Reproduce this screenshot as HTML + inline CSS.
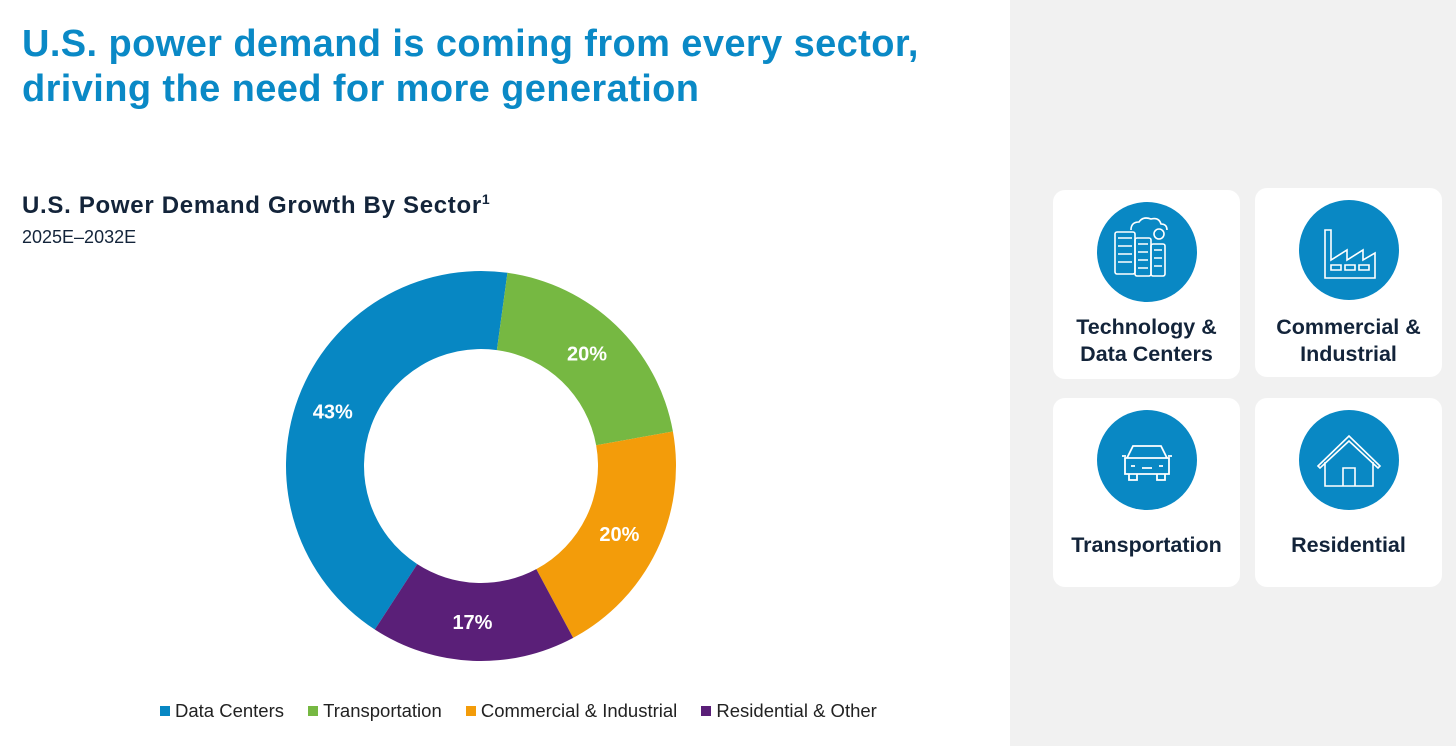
<!DOCTYPE html>
<html><head><meta charset="utf-8">
<style>
body{margin:0;width:1456px;height:746px;overflow:hidden;background:#fff;font-family:"Liberation Sans",Arial,sans-serif;position:relative}
.t{position:absolute;white-space:nowrap}
#title{left:22px;top:22px;font-size:38px;font-weight:bold;color:#0a89c6;line-height:45px;letter-spacing:0.4px}
#sub{left:22px;top:191px;font-size:24px;font-weight:bold;color:#13243a;letter-spacing:0.7px}
#sub sup{font-size:14px}
#yrs{left:22px;top:227px;font-size:18px;color:#13243a}
#panel{position:absolute;left:1010px;top:0;width:446px;height:746px;background:#f1f1f1}
.card{position:absolute;width:187px;height:189px;background:#fff;border-radius:12px}
.circ{position:absolute;left:44px;top:12px;width:100px;height:100px;border-radius:50%;background:#0988c4}
.lbl{position:absolute;left:0;width:100%;text-align:center;font-size:21.5px;font-weight:bold;color:#13243a;line-height:27px}
#legend{left:160px;top:700px;font-size:18.5px;color:#222}
.sw{display:inline-block;width:10px;height:10px;margin-right:5px;vertical-align:1px}
.li{margin-right:19px}
</style></head><body>
<div id="title" class="t">U.S. power demand is coming from every sector,<br>driving the need for more generation</div>
<div id="sub" class="t">U.S. Power Demand Growth By Sector<sup>1</sup></div>
<div id="yrs" class="t">2025E–2032E</div>
<svg id="chart" width="1010" height="746" style="position:absolute;left:0;top:0"></svg>
<div id="legend" class="t">
<span class="li"><span class="sw" style="background:#0787c3"></span>Data Centers</span>
<span class="li"><span class="sw" style="background:#76b842"></span>Transportation</span>
<span class="li"><span class="sw" style="background:#f39c0a"></span>Commercial &amp; Industrial</span>
<span class="li"><span class="sw" style="background:#5a1f78"></span>Residential &amp; Other</span>
</div>
<div id="panel">
<div class="card" style="left:43px;top:190px">
<div class="circ"><svg width="100" height="100" viewBox="0 0 100 100" fill="none" stroke="#fff" stroke-width="1.6">
<path d="M34 28 q0-8 8-8 q4-6 12-3 q8-2 10 5 q6 0 6 6"/><rect x="18" y="30" width="20" height="42" rx="2"/><rect x="38" y="36" width="16" height="38" rx="2"/><rect x="54" y="42" width="14" height="32" rx="2"/>
<path d="M21 36h14M21 44h14M21 52h14M21 60h14M41 42h10M41 50h10M41 58h10M41 66h10M57 48h8M57 56h8M57 64h8"/><circle cx="62" cy="32" r="5"/></svg></div>
<div class="lbl" style="top:124px">Technology &amp;<br>Data Centers</div></div>
<div class="card" style="left:245px;top:188px">
<div class="circ"><svg width="100" height="100" viewBox="0 0 100 100" fill="none" stroke="#fff" stroke-width="1.6">
<path d="M26 78V30h6v30l16-10v10l16-10v10l12-7v25z"/><path d="M32 70h10v-5h-10zM46 70h10v-5h-10zM60 70h10v-5h-10z"/></svg></div>
<div class="lbl" style="top:126px">Commercial &amp;<br>Industrial</div></div>
<div class="card" style="left:43px;top:398px">
<div class="circ"><svg width="100" height="100" viewBox="0 0 100 100" fill="none" stroke="#fff" stroke-width="1.8">
<path d="M30 48l6-12h28l6 12M28 48h44v16H28zM32 64v6h8v-6M60 64v6h8v-6M34 56h4M62 56h4M45 58h10M25 46h4M71 46h4"/></svg></div>
<div class="lbl" style="top:134px">Transportation</div></div>
<div class="card" style="left:245px;top:398px">
<div class="circ"><svg width="100" height="100" viewBox="0 0 100 100" fill="none" stroke="#fff" stroke-width="1.6">
<path d="M19 56l31-30 31 30-2 2-29-27-29 27zM26 52v24h48V52M44 76V58h12v18"/></svg></div>
<div class="lbl" style="top:134px">Residential</div></div>
</div>
<script>
const categories=["Data Centers","Transportation","Commercial & Industrial","Residential & Other"];
const values=[43,20,20,17];
const labels=["43%","20%","20%","17%"];
const colors=["#0787c3","#76b842","#f39c0a","#5a1f78"];
const svg=document.getElementById('chart');
const cx=481,cy=466,R=195,r=117,start=213;
const total=values.reduce((a,b)=>a+b,0);
function pt(deg,rad){const a=deg*Math.PI/180;return [cx+rad*Math.sin(a),cy-rad*Math.cos(a)];}
let ang=start;
values.forEach((v,i)=>{
 const sw=v/total*360,a0=ang,a1=ang+sw,lg=sw>180?1:0;
 const [x0,y0]=pt(a0,R),[x1,y1]=pt(a1,R),[x2,y2]=pt(a1,r),[x3,y3]=pt(a0,r);
 const p=document.createElementNS('http://www.w3.org/2000/svg','path');
 p.setAttribute('d',`M${x0},${y0}A${R},${R} 0 ${lg} 1 ${x1},${y1}L${x2},${y2}A${r},${r} 0 ${lg} 0 ${x3},${y3}Z`);
 p.setAttribute('fill',colors[i]);
 
 
 svg.appendChild(p);
 const [lx,ly]=pt(a0+sw/2,(R+r)/2);
 const t=document.createElementNS('http://www.w3.org/2000/svg','text');
 t.setAttribute('x',lx-2);t.setAttribute('y',ly+7);t.setAttribute('text-anchor','middle');
 t.setAttribute('fill','#fff');t.setAttribute('font-size','20');t.setAttribute('font-weight','bold');
 t.setAttribute('font-family','Liberation Sans, Arial, sans-serif');
 t.textContent=labels[i];
 
 
 svg.appendChild(t);
 ang=a1;
});
</script>
</body></html>
